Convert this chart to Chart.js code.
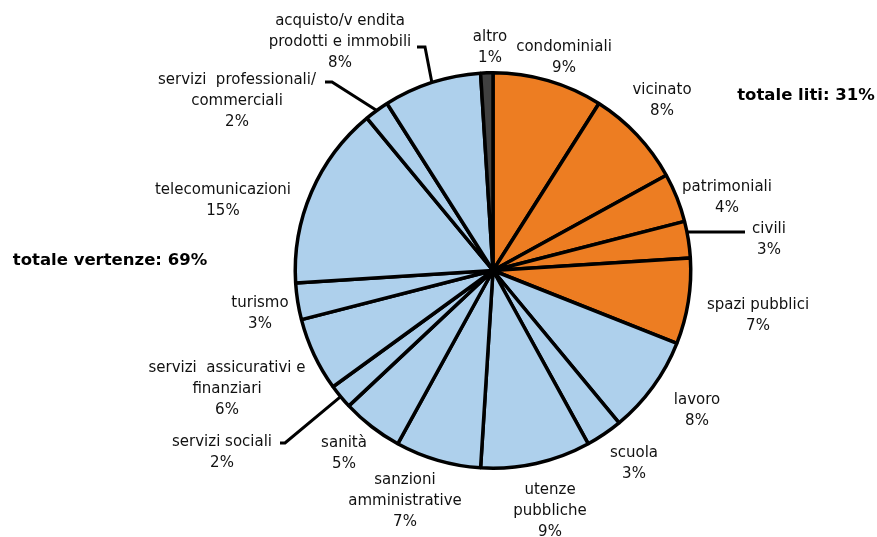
<!DOCTYPE html>
<html>
<head>
<meta charset="utf-8">
<script src="https://cdn.jsdelivr.net/npm/chart.js@4/dist/chart.umd.min.js"></script>
<style>
  html, body { margin: 0; padding: 0; background: #fff; }
  #wrap { width: 877px; height: 537px; position: relative; }
</style>
</head>
<body>
<div id="wrap"><canvas id="c"></canvas></div>
<script>
// Ripartizione delle controversie per materia (%)
const categories = [
  'condominiali', 'vicinato', 'patrimoniali', 'civili', 'spazi pubblici',
  'lavoro', 'scuola', 'utenze pubbliche', 'sanzioni amministrative', 'sanità',
  'servizi sociali', 'servizi  assicurativi e finanziari', 'turismo',
  'telecomunicazioni', 'servizi  professionali/ commerciali',
  'acquisto/vendita prodotti e immobili', 'altro'
];
const shares = [9, 8, 4, 3, 7, 8, 3, 9, 7, 5, 2, 6, 3, 15, 2, 8, 1];
const groups = ['liti', 'liti', 'liti', 'liti', 'liti',
  'vertenze', 'vertenze', 'vertenze', 'vertenze', 'vertenze', 'vertenze',
  'vertenze', 'vertenze', 'vertenze', 'vertenze', 'vertenze', 'altro'];
const totals = [
  { text: 'totale liti: 31%' },
  { text: 'totale vertenze: 69%' }
];

// --- presentation ---
const groupColors = { liti: '#ED7D22', vertenze: '#AED0EC', altro: '#404040' };
const FONT = '15px "DejaVu Sans", Verdana, sans-serif';
const BOLD = 'bold 16.5px "DejaVu Sans", Verdana, sans-serif';
const LINE_H = 21;

// label text lines (wrapping) and where each label block sits
const labelLines = [
  ['condominiali'], ['vicinato'], ['patrimoniali'], ['civili'], ['spazi pubblici'],
  ['lavoro'], ['scuola'], ['utenze', 'pubbliche'], ['sanzioni', 'amministrative'], ['sanità'],
  ['servizi sociali'], ['servizi  assicurativi e', 'finanziari'], ['turismo'],
  ['telecomunicazioni'], ['servizi  professionali/', 'commerciali'],
  ['acquisto/v endita', 'prodotti e immobili'], ['altro']
];
const labelAnchor = [
  [564, 47], [662, 90], [727, 187], [769, 229], [758, 305],
  [697, 400], [634, 453], [550, 490], [405, 480], [344, 443],
  [222, 442], [227, 368], [260, 303],
  [223, 190], [237, 80],
  [340, 21], [490, 37]
];
const totalAnchor = [[806, 96], [110, 261]];
// leader lines: polyline from slice edge to label
const leaders = {
  3:  { pts: [[745, 232]], flat: true },
  10: { pts: [[285, 443], [280, 443]] },
  14: { pts: [[332, 82], [325, 82]] },
  15: { pts: [[425, 47], [417, 47]] }
};

const labelPlugin = {
  id: 'sliceLabels',
  afterDatasetsDraw(chart) {
    const ctx = chart.ctx;
    const meta = chart.getDatasetMeta(0);
    ctx.save();
    // leader lines
    ctx.strokeStyle = '#000';
    ctx.lineWidth = 3;
    ctx.lineJoin = 'miter';
    Object.keys(leaders).forEach(k => {
      const arc = meta.data[+k];
      const L = leaders[k];
      const r = arc.outerRadius;
      let sx, sy;
      if (L.flat) {
        sy = L.pts[0][1];
        sx = arc.x + Math.sqrt(r * r - (sy - arc.y) * (sy - arc.y)) * Math.sign(L.pts[0][0] - arc.x);
      } else {
        const mid = (arc.startAngle + arc.endAngle) / 2;
        sx = arc.x + Math.cos(mid) * r;
        sy = arc.y + Math.sin(mid) * r;
      }
      ctx.beginPath();
      ctx.moveTo(sx, sy);
      L.pts.forEach(p => ctx.lineTo(p[0], p[1]));
      ctx.stroke();
    });
    // slice labels
    ctx.fillStyle = '#111';
    ctx.font = FONT;
    ctx.textAlign = 'center';
    ctx.textBaseline = 'middle';
    meta.data.forEach((arc, i) => {
      const [x, y] = labelAnchor[i];
      const lines = labelLines[i].concat([shares[i] + '%']);
      lines.forEach((t, j) => ctx.fillText(t, x, y + j * LINE_H));
    });
    // group totals
    ctx.font = BOLD;
    ctx.fillStyle = '#000';
    totals.forEach((t, i) => ctx.fillText(t.text, totalAnchor[i][0], totalAnchor[i][1]));
    ctx.restore();
  }
};

new Chart(document.getElementById('c'), {
  type: 'pie',
  data: {
    labels: categories,
    datasets: [{
      data: shares,
      backgroundColor: groups.map(g => groupColors[g]),
      borderColor: '#000',
      borderWidth: 3.5,
      hoverOffset: 0
    }]
  },
  options: {
    responsive: true,
    maintainAspectRatio: false,
    animation: false,
    rotation: 0,
    layout: { padding: { top: 71, bottom: 67, left: 200, right: 91 } },
    plugins: {
      legend: { display: false },
      tooltip: { enabled: false }
    }
  },
  plugins: [labelPlugin]
});
</script>
</body>
</html>
